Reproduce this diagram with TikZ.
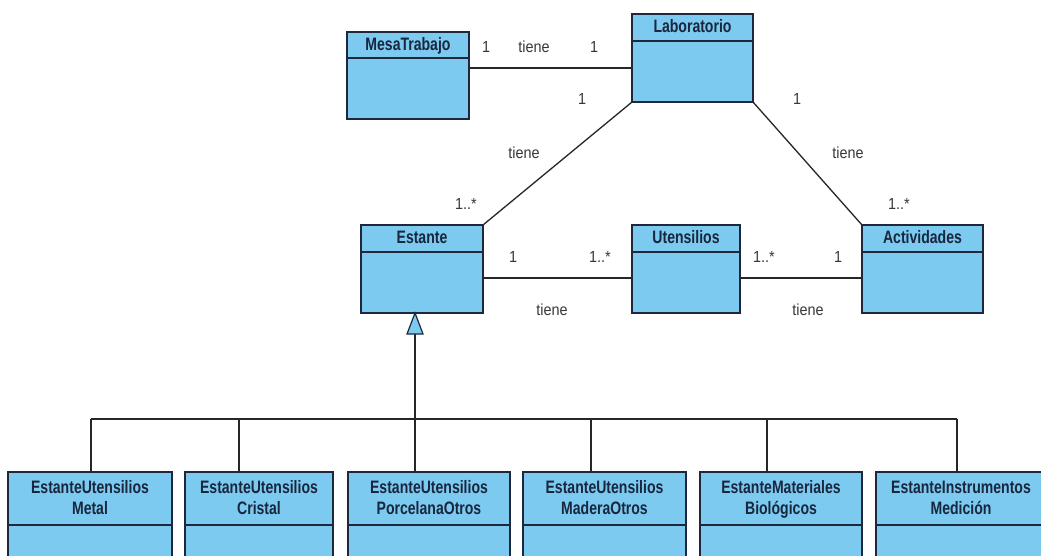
\documentclass[tikz,border=0pt]{standalone}
\usepackage{fontspec}
\setmainfont{Liberation Sans}
\newfontfamily\hdfont[FakeStretch=0.78]{Liberation Sans}
\newfontfamily\lbfont[FakeStretch=0.9]{Liberation Sans}
\definecolor{classfill}{RGB}{124,202,240}
\definecolor{classedge}{RGB}{30,40,58}
\definecolor{classtext}{RGB}{24,38,62}
\definecolor{labeltext}{RGB}{55,55,55}
\tikzset{
  classbox/.style={draw=classedge, fill=classfill, line width=1.2pt},
  divider/.style={draw=classedge, line width=1.2pt},
  assoc/.style={draw=black!85, line width=1.3pt},
  hdtext/.style={text=classtext, font=\hdfont\bfseries\fontsize{18}{21}\selectfont, align=center, inner sep=0pt},
  lbl/.style={text=labeltext, font=\lbfont\fontsize{16}{18}\selectfont, inner sep=0pt},
  gentri/.style={draw=classedge, fill=classfill, line width=1.2pt, line join=miter},
}
% a UML class: name, left, right, top, divider, bottom, title
\newcommand{\umlclass}[7]{%
  \path[classbox] (#2,#4) rectangle (#3,#6);
  \draw[divider] (#2,#5) -- (#3,#5);
  \node[hdtext] (#1) at ({(#2+#3)/2},{(#4+#5)/2+1}) {\strut#7\strut};
  \coordinate (#1-nw) at (#2,#4);
  \coordinate (#1-ne) at (#3,#4);
  \coordinate (#1-sw) at (#2,#6);
  \coordinate (#1-se) at (#3,#6);
}
\begin{document}
\begin{tikzpicture}[x=1pt,y=-1pt]
\useasboundingbox (0,0) rectangle (1041,555);
\clip (0,0) rectangle (1041,555);
\fill[white] (0,0) rectangle (1041,555);

% classes of the upper part
\umlclass{mesa}{347}{469}{32}{58}{119}{MesaTrabajo}
\umlclass{lab}{632}{753}{14}{41}{102}{Laboratorio}
\umlclass{estante}{361}{483}{225}{252}{313}{Estante}
\umlclass{uten}{632}{740}{225}{252}{313}{Utensilios}
\umlclass{activ}{862}{983}{225}{252}{313}{Actividades}

% specialised shelves
\umlclass{metal}{8}{172}{472}{525}{570}{EstanteUtensilios\\Metal}
\umlclass{cristal}{185}{333}{472}{525}{570}{EstanteUtensilios\\Cristal}
\umlclass{porc}{348}{510}{472}{525}{570}{EstanteUtensilios\\PorcelanaOtros}
\umlclass{madera}{523}{686}{472}{525}{570}{EstanteUtensilios\\MaderaOtros}
\umlclass{bio}{700}{862}{472}{525}{570}{EstanteMateriales\\Biológicos}
\umlclass{instr}{876}{1046}{472}{525}{570}{EstanteInstrumentos\\Medición}

% associations
\coordinate (mesaR) at (469,68);
\coordinate (labL) at (632,68);
\draw[assoc] (mesaR) -- (labL);
\draw[assoc] (lab-sw) -- (estante-ne);
\draw[assoc] (lab-se) -- (activ-nw);
\coordinate (estR) at (483,278);
\coordinate (utenL) at (632,278);
\coordinate (utenR) at (740,278);
\coordinate (activL) at (862,278);
\draw[assoc] (estR) -- (utenL);
\draw[assoc] (utenR) -- (activL);

% association labels
\node[lbl] (m1) at (486,47) {1};
\node[lbl] (m2) at (534,47) {tiene};
\node[lbl] (m3) at (594,47) {1};
\node[lbl] (l1) at (582,99) {1};
\node[lbl] (l2) at (524,153) {tiene};
\node[lbl] (l3) at (466,204) {1..*};
\node[lbl] (r1) at (797,99) {1};
\node[lbl] (r2) at (848,153) {tiene};
\node[lbl] (r3) at (899,204) {1..*};
\node[lbl] (e1) at (513,257) {1};
\node[lbl] (e2) at (600,257) {1..*};
\node[lbl] (e3) at (552,310) {tiene};
\node[lbl] (u1) at (764,257) {1..*};
\node[lbl] (u2) at (838,257) {1};
\node[lbl] (u3) at (808,310) {tiene};

% generalisation tree
\coordinate (tri) at (415,313);
\coordinate (trib) at (415,334);
\coordinate (busY) at (415,419);
\draw[assoc] (trib) -- (busY);
\draw[assoc] (91,419) -- (957,419);
\foreach \n/\x in {metal/91,cristal/239,porc/415,madera/591,bio/767,instr/957}{
  \draw[assoc] (\x,419) -- (\x,472);
}
\draw[gentri] (tri) -- (423,334) -- (407,334) -- cycle;
\end{tikzpicture}
\end{document}
